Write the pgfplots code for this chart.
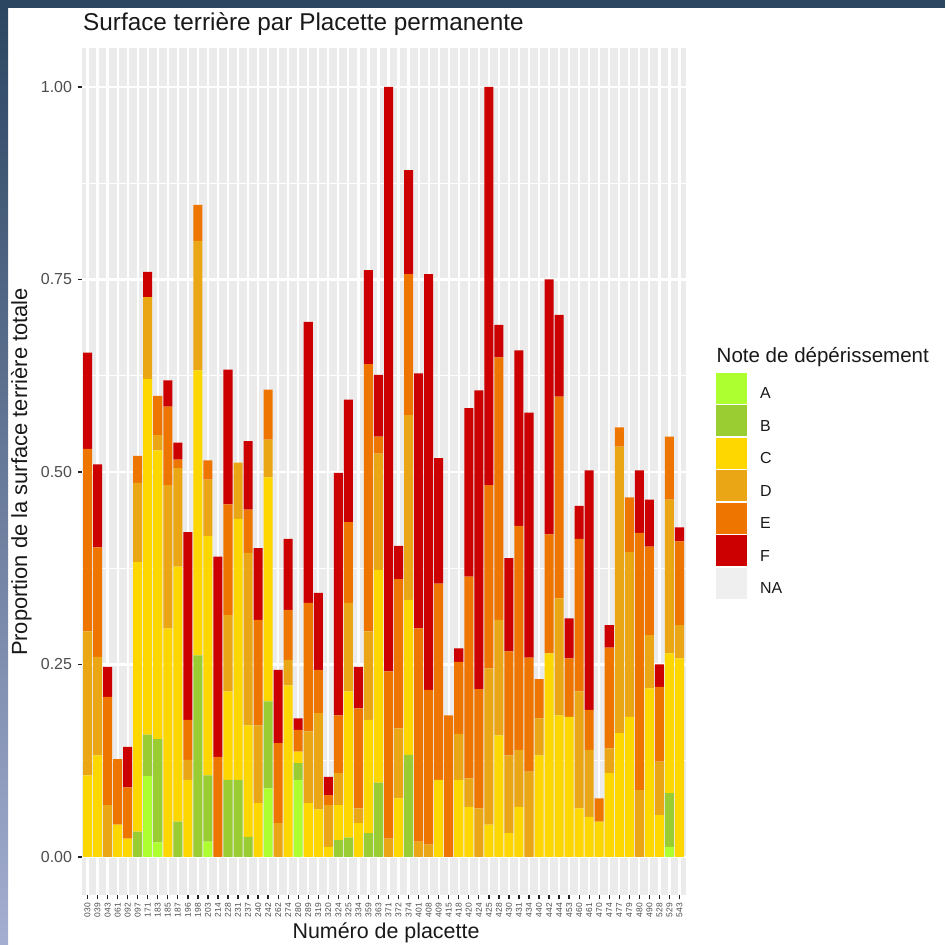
\documentclass[border=0pt]{standalone}
\usepackage{pgfplots}
\usepackage{pgfplotstable}
\pgfplotsset{compat=1.18}
\usepackage{fontspec}
\setmainfont{Liberation Sans}
\definecolor{cA}{HTML}{ADFF2F}
\definecolor{cB}{HTML}{9ACD32}
\definecolor{cC}{HTML}{FFD700}
\definecolor{cD}{HTML}{EBA616}
\definecolor{cE}{HTML}{EE7600}
\definecolor{cF}{HTML}{CC0000}
\definecolor{cNA}{HTML}{EFEFEF}
\definecolor{panel}{HTML}{EBEBEB}
\definecolor{navy}{HTML}{2C4662}
\definecolor{lav}{HTML}{A4AED0}
\definecolor{txt}{HTML}{4D4D4D}
\definecolor{tickc}{HTML}{222222}

\pgfplotstableread{
k A B C D E F
0 0 0 0.106 0.187 0.237 0.125
1 0 0 0.132 0.128 0.142 0.108
2 0 0 0 0.0675 0.1405 0.039
3 0 0 0.042 0 0.085 0
4 0 0 0.024 0 0.0665 0.0525
5 0 0.033 0.350 0.103 0.035 0
6 0.105 0.054 0.462 0.106 0 0.033
7 0.019 0.134 0.375 0.020 0.051 0
8 0 0 0.297 0.186 0.102 0.034
9 0 0.046 0.331 0.128 0.011 0.022
10 0 0 0.100 0.026 0.052 0.244
11 0 0.262 0.370 0.168 0.047 0
12 0.020 0.086 0.311 0.073 0.025 0
13 0 0 0 0 0.130 0.260
14 0 0.100 0.115 0.099 0.144 0.175
15 0 0.100 0.339 0.073 0 0
16 0 0.026 0.145 0.224 0.056 0.089
17 0 0 0.070 0.101 0.137 0.093
18 0.089 0.113 0.291 0.049 0.065 0
19 0 0 0 0.044 0.104 0.095
20 0 0 0.223 0.033 0.065 0.092
21 0.100 0.022 0.015 0 0.028 0.015
22 0 0 0.070 0.093 0.167 0.365
23 0 0 0.062 0.125 0.056 0.100
24 0 0 0.013 0.0545 0.013 0.0235
25 0 0.022 0.0455 0.0415 0.075 0.315
26 0 0.025 0.190 0.115 0.105 0.159
27 0 0 0.044 0.019 0.130 0.054
28 0 0.031 0.147 0.115 0.347 0.122
29 0 0.0965 0.2765 0.151 0.022 0.080
30 0 0 0 0.024 0.217 0.759
31 0 0 0.076 0.091 0.194 0.043
32 0 0.1325 0.2015 0.240 0.183 0.135
33 0 0 0 0.020 0.277 0.331
34 0 0 0 0.016 0.201 0.540
35 0 0 0.100 0 0.255 0.163
36 0 0 0 0 0.184 0
37 0 0 0.100 0.060 0.0935 0.0175
38 0 0 0.065 0.037 0.262 0.219
39 0 0 0 0.063 0.155 0.388
40 0 0 0.042 0.203 0.238 0.517
41 0 0 0.158 0.150 0.341 0.042
42 0 0 0.031 0.101 0.135 0.121
43 0 0 0.065 0.074 0.291 0.228
44 0 0 0 0.111 0.148 0.318
45 0 0 0.132 0.048 0.051 0
46 0 0 0.2645 0 0.1545 0.331
47 0 0 0.184 0.152 0.262 0.106
48 0 0 0.182 0 0.076 0.052
49 0 0 0.063 0.152 0.198 0.043
50 0 0 0.052 0.087 0.052 0.311
51 0 0 0.046 0 0.030 0
52 0 0 0.109 0.032 0.131 0.029
53 0 0 0.161 0.372 0.025 0
54 0 0 0.182 0.214 0.071 0
55 0 0 0 0.087 0.334 0.081
56 0 0 0.219 0.069 0.115 0.061
57 0 0 0.0545 0.0695 0.097 0.029
58 0.013 0.070 0.1815 0.1995 0.082 0
59 0 0 0.258 0.043 0.109 0.018
}\data

\pgfplotsset{sqleg/.style={legend image code/.code={\fill[##1] (0bp,-9.8bp) rectangle (31bp,21.2bp);}}}

\begin{document}
\begin{tikzpicture}[x=1bp,y=1bp]
\fill[white] (0,0) rectangle (945,945);
\fill[navy] (0,937) rectangle (945,945);
\shade[top color=navy, bottom color=lav] (0,0) rectangle (8,937);
\begin{axis}[
  at={(81.5bp,49.5bp)}, anchor=south west,
  scale only axis, width=604bp, height=847bp,
  xmin=-0.6, xmax=59.6, ymin=-0.05, ymax=1.05,
  ybar stacked, bar width=0.9,
  axis background/.style={fill=panel},
  axis line style={draw=none},
  xtick pos=bottom, ytick pos=left,
  xtick={0,...,59},
  xticklabels={030,039,043,061,092,097,171,183,185,187,196,198,203,214,228,231,237,240,242,262,274,280,289,319,320,324,325,334,359,363,371,372,374,401,408,409,415,418,420,424,425,428,430,431,434,440,442,444,453,460,461,470,474,477,479,480,490,528,529,543},
  ytick={0,0.25,0.5,0.75,1},
  yticklabels={0.00,0.25,0.50,0.75,1.00},
  minor ytick={0.125,0.375,0.625,0.875},
  xmajorgrids, ymajorgrids, yminorgrids,
  major grid style={white, line width=2.2bp},
  minor grid style={white, line width=1.1bp},
  tick align=outside, major tick length=4bp, minor tick length=0pt,
  tick style={color=tickc, line width=1.3bp},
  yticklabel style={font=\fontsize{16}{16}\selectfont, text=txt, xshift=-2bp},
  xticklabel style={font=\fontsize{8.5}{8.5}\selectfont, text=txt, rotate=90, anchor=east},
  legend style={at={(1.0505,0.6169)}, anchor=north west, draw=none, fill=none,
    inner sep=0pt, outer sep=0pt, row sep=1.5bp,
    font=\fontsize{16}{16}\selectfont, text=black!90,
    nodes={inner sep=0pt},
    /tikz/every odd column/.append style={column sep=13bp}},
  legend cell align=left,
  clip=false,
]
\addplot[fill=cA, draw=none, sqleg] table[x=k, y=A] {\data};
\addlegendentry{A}
\addplot[fill=cB, draw=none, sqleg] table[x=k, y=B] {\data};
\addlegendentry{B}
\addplot[fill=cC, draw=none, sqleg] table[x=k, y=C] {\data};
\addlegendentry{C}
\addplot[fill=cD, draw=none, sqleg] table[x=k, y=D] {\data};
\addlegendentry{D}
\addplot[fill=cE, draw=none, sqleg] table[x=k, y=E] {\data};
\addlegendentry{E}
\addplot[fill=cF, draw=none, sqleg] table[x=k, y=F] {\data};
\addlegendentry{F}
\addlegendimage{fill=cNA, draw=none, sqleg}
\addlegendentry{NA}
\end{axis}
\node[anchor=base west, inner sep=0pt, font=\fontsize{24.4}{24}\selectfont, text=black!90] at (83,914) {Surface terrière par Placette permanente};
\node[anchor=base, inner sep=0pt, rotate=90, font=\fontsize{22}{22}\selectfont, text=black!90] at (27,473) {Proportion de la surface terrière totale};
\node[anchor=base, inner sep=0pt, font=\fontsize{21.5}{21.5}\selectfont, text=black!90] at (386,6) {Numéro de placette};
\node[anchor=base west, inner sep=0pt, font=\fontsize{20.6}{20.6}\selectfont, text=black!90] at (716.5,582) {Note de dépérissement};
\end{tikzpicture}
\end{document}
